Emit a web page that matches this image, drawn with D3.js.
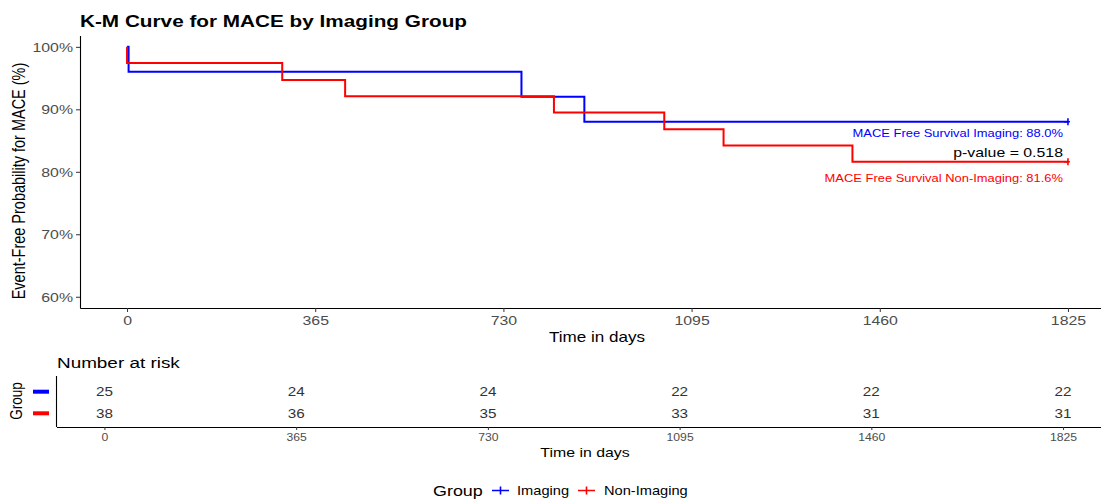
<!DOCTYPE html>
<html>
<head>
<meta charset="utf-8">
<script src="https://cdn.jsdelivr.net/npm/d3@7"></script>
<style>
  body { margin: 0; background: #fff; }
  svg { display: block; }
</style>
</head>
<body>
<div id="chart"></div>
<script>
// data
const groups = ["Imaging", "Non-Imaging"];
const groupColors = ["#0000FF", "#FF0000"];

const imagingTime = [0, 3, 765, 887, 1825];
const imagingSurv = [1, 0.96, 0.92, 0.88, 0.88];
const nonImagingTime = [0, 0, 301, 423, 828, 1042, 1157, 1407, 1825];
const nonImagingSurv = [1, 0.974, 0.947, 0.921, 0.895, 0.868, 0.842, 0.816, 0.816];
const censorTime = [1825, 1825];

const riskTimes = [0, 365, 730, 1095, 1460, 1825];
const riskImaging = [25, 24, 24, 22, 22, 22];
const riskNonImaging = [38, 36, 35, 33, 31, 31];

const yTicks = [0.6, 0.7, 0.8, 0.9, 1.0];
const finalPct = ["88.0%", "81.6%"];
const pValue = "0.518";

// layout
const width = 1101, height = 501;
const SX = 1.22;   // the reference text is a bit wide, stretch it
const FONT = "'Liberation Sans', Arial, Helvetica, sans-serif";

const svg = d3.select("#chart").append("svg")
    .attr("width", width).attr("height", height)
    .style("font-family", FONT);

// small helper: text that is stretched horizontally
const txt = (g, x, y, s, size, opts = {}) => {
  const t = g.append("text")
      .attr("transform", `translate(${x},${y})` + (opts.rotate ? ` rotate(-90) scale(1,${SX})` : ` scale(${SX},1)`))
      .attr("text-anchor", opts.anchor || "start")
      .attr("font-size", size)
      .attr("fill", opts.fill || "#000")
      .text(s);
  if (opts.bold) t.attr("font-weight", "bold");
  return t;
};

// ---- main plot ----
const x = d3.scaleLinear().domain([-91.25, 1916.25]).range([80, 1115]);
const y = d3.scaleLinear().domain([0.582, 1.018]).range([308, 35.6]);

txt(svg, 80, 27, "K-M Curve for MACE by Imaging Group", 17, { bold: true });

const yAxis = svg.append("g")
    .attr("transform", "translate(80,0)")
    .call(d3.axisLeft(y).tickValues(yTicks).tickSize(4).tickSizeOuter(0).tickFormat(d3.format(".0%")));
yAxis.selectAll("text")
    .attr("x", null).attr("dy", null)
    .attr("transform", `translate(-7,4.5) scale(${SX},1)`)
    .attr("font-size", 13).attr("font-family", FONT).attr("fill", "#4D4D4D");

const xAxis = svg.append("g")
    .attr("transform", "translate(0,308)")
    .call(d3.axisBottom(x).tickValues(riskTimes).tickSize(4).tickSizeOuter(0).tickFormat(d3.format("d")));
xAxis.selectAll("text")
    .attr("y", 17).attr("dy", null).attr("x", 0)
    .attr("transform", `scale(${SX},1)`)
    .attr("font-size", 13).attr("font-family", FONT).attr("fill", "#4D4D4D");

svg.selectAll(".domain").attr("stroke", "#000").attr("stroke-width", 1.1);
svg.selectAll(".tick line").attr("stroke", "#333");

txt(svg, 597, 341.7, "Time in days", 14, { anchor: "middle" });
txt(svg, 25, 181, "Event-Free Probability for MACE (%)", 14.5, { anchor: "middle", rotate: true });

// curves
const curves = [
  d3.zip(imagingTime, imagingSurv),
  d3.zip(nonImagingTime, nonImagingSurv)
];
const line = d3.line().x(d => x(d[0])).y(d => y(d[1])).curve(d3.curveStepAfter);

svg.append("g").selectAll("path")
  .data(curves)
  .join("path")
    .attr("d", line)
    .attr("fill", "none")
    .attr("stroke", (d, i) => groupColors[i])
    .attr("stroke-width", 2);

// censor marks
curves.forEach((c, i) => {
  const last = c[c.length - 1];
  const cx = x(censorTime[i]), cy = y(last[1]);
  svg.append("path")
      .attr("d", `M${cx - 4},${cy}H${cx + 2}M${cx},${cy - 3.5}V${cy + 3.5}`)
      .attr("stroke", groupColors[i]).attr("stroke-width", 1.6).attr("fill", "none");
});

// annotations
txt(svg, 1063, 137, `MACE Free Survival ${groups[0]}: ${finalPct[0]}`, 10.6, { anchor: "end", fill: groupColors[0] });
txt(svg, 1063, 157, `p-value = ${pValue}`, 13, { anchor: "end", fill: "#000" });
txt(svg, 1063, 182, `MACE Free Survival ${groups[1]}: ${finalPct[1]}`, 10.6, { anchor: "end", fill: groupColors[1] });

// ---- risk table ----
const tx = d3.scaleLinear().domain([-91.25, 1916.25]).range([56.5, 1111]);
const ty = d3.scalePoint().domain(groups).range([391.7, 413.3]);
const risk = [riskImaging, riskNonImaging];

txt(svg, 57, 368, "Number at risk", 15.5);

svg.append("line")
    .attr("x1", 56.5).attr("x2", 56.5).attr("y1", 376).attr("y2", 427)
    .attr("stroke", "#000").attr("stroke-width", 1.1);

const tAxis = svg.append("g")
    .attr("transform", "translate(0,427)")
    .call(d3.axisBottom(tx).tickValues(riskTimes).tickSize(3).tickSizeOuter(0).tickFormat(d3.format("d")));
tAxis.select(".domain").attr("stroke", "#000").attr("stroke-width", 1.1);
tAxis.selectAll(".tick line").attr("stroke", "#333");
tAxis.selectAll("text")
    .attr("y", 14).attr("dy", null).attr("x", 0)
    .attr("transform", `scale(${SX},1)`)
    .attr("font-size", 10).attr("font-family", FONT).attr("fill", "#4D4D4D");

groups.forEach((g, i) => {
  const row = svg.append("g");
  riskTimes.forEach((t, j) => {
    txt(row, tx(t), ty(g) + 4.5, risk[i][j], 12.5, { anchor: "middle", fill: "#333" });
  });
  svg.append("line")
      .attr("x1", 33).attr("x2", 49).attr("y1", ty(g)).attr("y2", ty(g))
      .attr("stroke", groupColors[i]).attr("stroke-width", 4);
});

txt(svg, 22, 401, "Group", 13.5, { anchor: "middle", rotate: true, fill: "#000" });
txt(svg, 585, 456.7, "Time in days", 13, { anchor: "middle" });

// ---- legend ----
const legend = svg.append("g");
txt(legend, 433, 496, "Group", 14.7);
const legX = [492, 578];
const legLabelX = [517, 604];
groups.forEach((g, i) => {
  legend.append("path")
      .attr("d", `M${legX[i]},490.5H${legX[i] + 17}M${legX[i] + 8.5},486.5V494.5`)
      .attr("stroke", groupColors[i]).attr("stroke-width", 1.6).attr("fill", "none");
  txt(legend, legLabelX[i], 495, g, 12);
});
</script>
</body>
</html>
